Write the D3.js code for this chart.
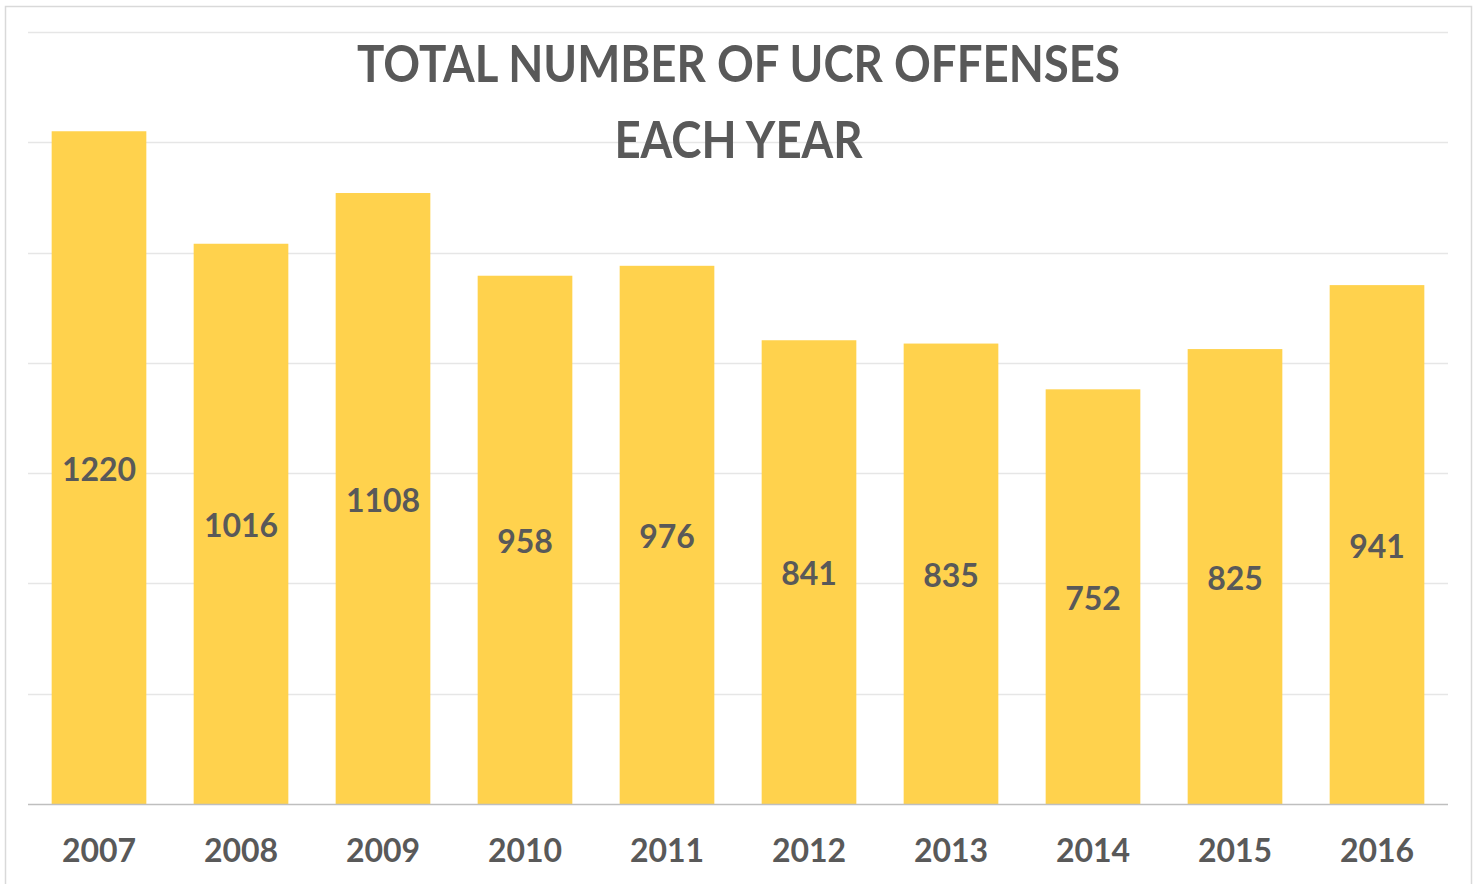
<!DOCTYPE html>
<html>
<head>
<meta charset="utf-8">
<script src="https://cdn.jsdelivr.net/npm/d3@7"></script>
<style>
  html, body { margin: 0; padding: 0; background: #fff; }
  svg { display: block; }
  text { font-family: Lato, "Open Sans", sans-serif; font-weight: 700; fill: #595959; }
</style>
</head>
<body>
<svg id="chart" width="1478" height="884"></svg>
<script>
const years = ["2007", "2008", "2009", "2010", "2011", "2012", "2013", "2014", "2015", "2016"];
const offenses = [1220, 1016, 1108, 958, 976, 841, 835, 752, 825, 941];
const gridTicks = [0, 200, 400, 600, 800, 1000, 1200, 1400];
const titleLines = ["TOTAL NUMBER OF UCR OFFENSES", "EACH YEAR"];

const svg = d3.select("#chart");

// chart area frame
svg.append("rect")
  .attr("x", 5.5).attr("y", 6.5)
  .attr("width", 1466).attr("height", 890)
  .attr("fill", "#fff")
  .attr("stroke", "#d9d9d9")
  .attr("stroke-width", 1.5);

const x = d3.scaleBand().domain(years).range([28, 1448]).paddingInner(1 / 3).paddingOuter(1 / 6);
const y = d3.scaleLinear().domain([0, 1400]).range([804, 32]);

// horizontal gridlines
svg.append("g")
  .selectAll("line")
  .data(gridTicks.filter(d => d > 0))
  .join("line")
  .attr("x1", 28).attr("x2", 1448)
  .attr("y1", d => Math.round(y(d)) + 0.5)
  .attr("y2", d => Math.round(y(d)) + 0.5)
  .attr("stroke", "#e6e6e6")
  .attr("stroke-width", 1.5);

// bars
const data = years.map((yr, i) => ({ year: yr, value: offenses[i] }));
svg.append("g")
  .selectAll("rect")
  .data(data)
  .join("rect")
  .attr("x", d => x(d.year))
  .attr("y", d => y(d.value))
  .attr("width", x.bandwidth())
  .attr("height", d => y(0) - y(d.value))
  .attr("fill", "#ffd24d");

// category axis baseline
svg.append("line")
  .attr("x1", 28).attr("x2", 1448)
  .attr("y1", y(0) + 0.5).attr("y2", y(0) + 0.5)
  .attr("stroke", "#bfbfbf")
  .attr("stroke-width", 1.5);

// value labels, centred within each bar
svg.append("g")
  .selectAll("text")
  .data(data)
  .join("text")
  .attr("x", d => x(d.year) + x.bandwidth() / 2)
  .attr("y", d => (y(d.value) + y(0)) / 2 + 13)
  .attr("text-anchor", "middle")
  .attr("font-size", 32)
  .text(d => d.value);

// year labels
const xAxis = d3.axisBottom(x).tickSize(0).tickPadding(0);
const axisG = svg.append("g").attr("transform", `translate(0, ${y(0)})`).call(xAxis);
axisG.select(".domain").remove();
axisG.selectAll("text")
  .attr("y", 58)
  .attr("dy", null)
  .attr("font-size", 32)
  .attr("font-family", null)
  .attr("fill", null);
axisG.attr("font-family", null).attr("font-size", null);

// title, horizontally condensed to keep the tall caps within a narrow line
svg.append("g")
  .selectAll("text")
  .data(titleLines)
  .join("text")
  .attr("x", 738.5)
  .attr("y", (d, i) => 82 + i * 76)
  .attr("text-anchor", "middle")
  .attr("font-size", 52)
  .text(d => d)
  .each(function () {
    const w = this.getComputedTextLength();
    d3.select(this).attr("textLength", w * 0.877).attr("lengthAdjust", "spacingAndGlyphs");
  });
</script>
</body>
</html>
